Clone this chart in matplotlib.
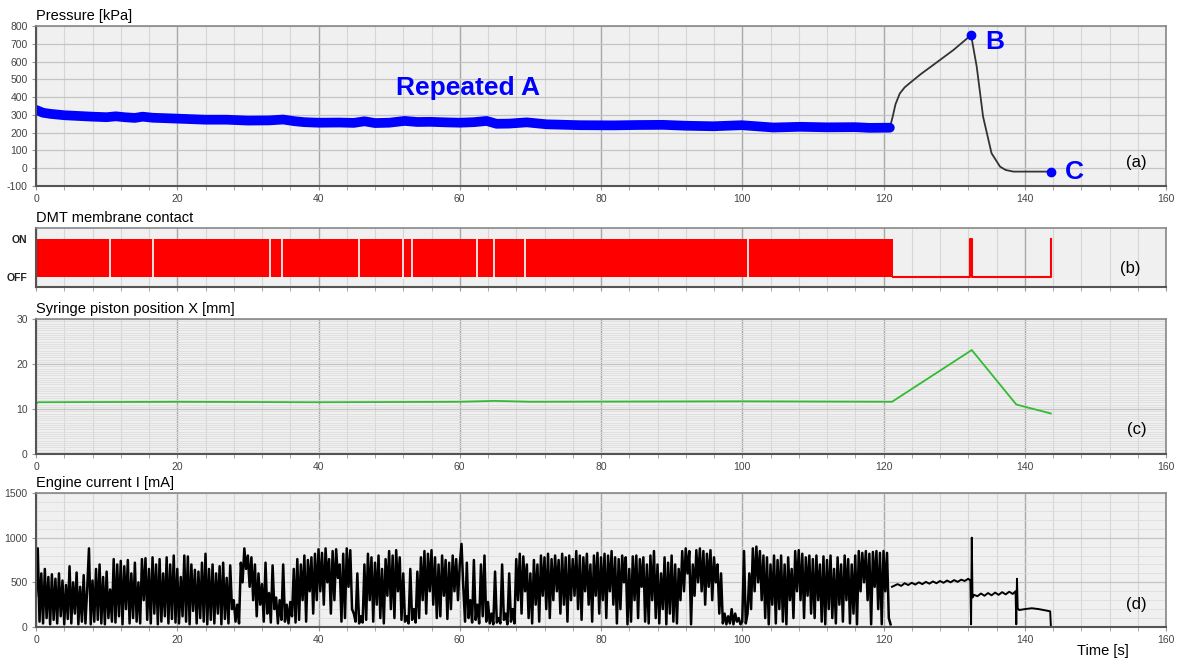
import matplotlib
matplotlib.use('Agg')
import matplotlib.pyplot as plt
import numpy as np
from matplotlib.ticker import MultipleLocator

plt.rcParams['font.family'] = ['Liberation Sans', 'DejaVu Sans']
plt.rcParams['axes.unicode_minus'] = False

# --- (a) pressure ---
press_t = [0, 0.5, 1, 2, 4, 6, 8, 10, 11.3, 12.5, 14, 15.1, 16.5, 20, 24, 27, 30, 33, 35, 36.5,
           38, 40, 43, 45, 46.5, 48, 50, 52.2, 54, 55.8, 58, 60, 62, 63.8, 65.2, 67, 69.5, 72.3,
           77, 81.8, 85, 88.8, 92, 95.9, 99.9, 102, 104.4, 108.2, 112, 116, 118, 120.9]
press_kpa = [328, 320, 312, 306, 298, 294, 290, 287, 292, 287, 283, 290, 284, 279, 273, 273, 268,
             269, 274, 265, 259, 256, 257, 255, 264, 254, 256, 266, 260, 261, 258, 256, 259, 266,
             250, 251, 258, 247, 242, 241, 243, 244, 239, 236, 242, 236, 229, 233, 230, 231, 227, 228]
curve_t = [120.9, 121.3, 121.7, 122.3, 123.0, 123.75, 125.3, 127.05, 129.9, 132.4, 133.2, 134.1,
           135.3, 136.5, 137.3, 138.4, 143.7]
curve_kpa = [228, 290, 360, 420, 455, 480, 530, 581, 665, 749, 571, 290, 84, 9, -10, -19, -19]
point_b = (132.4, 749)
point_c = (143.7, -19)

# --- (b) membrane contact ---
contact_dense_end = 121.3
contact_gaps = [10.5, 16.6, 33.1, 34.8, 45.8, 52.0, 53.2, 62.5, 64.9, 69.3, 100.8]
contact_t = [121.3, 132.3, 132.6, 143.7]
contact_state = [0, 1, 0, 1]

# --- (c) piston position ---
piston_t = [0, 0.3, 20, 40, 60, 65, 70, 100, 121.2, 132.5, 138.8, 143.7]
piston_mm = [11.2, 11.5, 11.6, 11.5, 11.6, 11.8, 11.6, 11.7, 11.6, 23.1, 11.0, 9.0]

# --- (d) engine current, sampled every 0.25 s up to 121 s ---
current_ma = [
    350, 880, 60, 600, 40, 650, 100, 560, 30, 590, 80, 540, 40, 600, 120, 520, 30, 470, 90, 680,
    40, 500, 150, 610, 30, 450, 60, 580, 40, 430, 880, 30, 520, 60, 650, 80, 700, 40, 560, 30,
    620, 100, 420, 60, 760, 50, 700, 120, 740, 30, 680, 200, 750, 40, 600, 100, 720, 60, 500, 40,
    760, 300, 770, 80, 650, 40, 780, 150, 700, 30, 760, 60, 600, 120, 780, 40, 700, 90, 800, 50,
    650, 40, 560, 120, 800, 60, 790, 30, 700, 180, 640, 40, 620, 100, 720, 60, 820, 30, 650, 80,
    700, 40, 600, 150, 680, 30, 720, 90, 550, 40, 690, 200, 300, 60, 250, 40, 720, 500, 880, 650,
    800, 450, 780, 300, 700, 120, 600, 250, 480, 60, 720, 150, 380, 50, 690, 200, 330, 40, 300, 80,
    700, 60, 250, 40, 280, 120, 650, 50, 760, 80, 700, 300, 800, 60, 750, 400, 780, 150, 820, 300,
    870, 400, 830, 250, 880, 500, 760, 150, 850, 300, 870, 550, 700, 60, 820, 100, 880, 450, 860, 200,
    150, 60, 600, 40, 120, 50, 700, 80, 820, 300, 780, 60, 720, 250, 800, 100, 650, 40, 760, 350,
    850, 200, 800, 100, 860, 400, 780, 80, 600, 60, 120, 40, 650, 80, 200, 50, 620, 100, 780, 300,
    850, 150, 820, 400, 860, 250, 780, 100, 700, 120, 800, 350, 750, 90, 720, 200, 800, 400, 760, 300,
    700, 930, 450, 60, 720, 100, 300, 50, 750, 80, 250, 40, 700, 120, 800, 60, 280, 40, 150, 30,
    620, 50, 100, 40, 700, 80, 150, 30, 600, 60, 200, 40, 760, 300, 820, 150, 790, 400, 700, 100,
    600, 40, 750, 250, 700, 60, 800, 350, 780, 200, 820, 100, 760, 300, 800, 400, 750, 150, 820, 250,
    780, 60, 800, 300, 760, 350, 850, 200, 800, 80, 780, 400, 820, 250, 700, 60, 800, 350, 830, 150,
    780, 300, 820, 100, 800, 400, 850, 250, 780, 40, 760, 200, 800, 500, 780, 30, 650, 60, 790, 300,
    800, 100, 760, 450, 780, 60, 700, 40, 800, 300, 850, 100, 700, 40, 600, 200, 780, 30, 720, 150,
    800, 60, 700, 40, 650, 300, 850, 400, 880, 600, 850, 30, 700, 350, 860, 500, 880, 400, 850, 250,
    820, 450, 860, 300, 780, 500, 700, 150, 600, 40, 150, 30, 120, 40, 200, 30, 150, 60, 100, 30,
    60, 850, 40, 150, 600, 200, 880, 400, 900, 500, 850, 300, 800, 100, 780, 30, 700, 250, 800, 40,
    750, 200, 800, 60, 700, 30, 780, 300, 650, 100, 850, 400, 860, 300, 820, 100, 780, 350, 800, 150,
    760, 100, 800, 300, 700, 60, 790, 30, 750, 200, 800, 100, 650, 40, 780, 250, 700, 60, 800, 300,
    760, 40, 700, 150, 800, 30, 850, 400, 830, 500, 850, 300, 820, 30, 840, 450, 850, 200, 830, 30,
    850, 400, 830, 100, 30,
]
current_tail_t = [121.2, 122.0, 122.5, 123.0, 123.5, 124.0, 124.5, 125.0, 125.5, 126.0,
                  126.5, 127.0, 127.5, 128.0, 128.5, 129.0, 129.5, 130.0, 130.5, 131.0,
                  131.5, 132.0, 132.3, 132.4, 132.5, 132.6, 132.8, 133.3, 133.8, 134.3,
                  134.8, 135.3, 135.8, 136.3, 136.8, 137.3, 137.8, 138.3, 138.7, 138.8,
                  138.9, 139.0, 139.2, 140.0, 141.0, 142.0, 143.0, 143.6, 143.7]
current_tail_ma = [450, 480, 460, 490, 470, 495, 475, 500, 480, 505,
                   485, 510, 490, 515, 495, 520, 500, 525, 505, 530,
                   515, 540, 520, 30, 1000, 330, 360, 345, 375, 350,
                   380, 355, 385, 360, 390, 365, 395, 370, 400, 30,
                   540, 210, 190, 200, 210, 200, 185, 175, 10]


def style(ax, ymaj=None, ymin=None, xlabels=True):
    ax.set_facecolor('#f0f0f0')
    ax.set_xlim(0, 160)
    ax.xaxis.set_major_locator(MultipleLocator(20))
    ax.xaxis.set_minor_locator(MultipleLocator(4))
    ax.grid(which='major', axis='x', color='#a8a8a8', lw=1.0)
    ax.grid(which='minor', axis='x', color='#d6d6d6', lw=0.8)
    if ymaj is not None:
        ax.yaxis.set_major_locator(MultipleLocator(ymaj))
        ax.grid(which='major', axis='y', color='#c4c4c4', lw=0.9)
    if ymin is not None:
        ax.yaxis.set_minor_locator(MultipleLocator(ymin))
        ax.grid(which='minor', axis='y', color='#dedede', lw=0.6)
    ax.set_axisbelow(True)
    ax.tick_params(which='both', direction='out', length=3, color='#999999',
                   labelsize=7.5, labelcolor='#444444', pad=3)
    ax.tick_params(axis='y', which='minor', length=0)
    if not xlabels:
        ax.tick_params(axis='x', labelbottom=False)
    for s in ['left', 'bottom']:
        ax.spines[s].set_color('#555555')
        ax.spines[s].set_linewidth(1.5)
    for s in ['top', 'right']:
        ax.spines[s].set_color('#888888')
        ax.spines[s].set_linewidth(1.2)


def title(ax, txt):
    ax.annotate(txt, xy=(0, 1), xycoords='axes fraction', xytext=(0, 2.5),
                textcoords='offset points', ha='left', va='bottom', fontsize=10.5)


W, H = 1183, 659
fig = plt.figure(figsize=(W / 100, H / 100), dpi=100)

def box(top, bottom):
    return [36 / W, 1 - bottom / H, 1130 / W, (bottom - top) / H]

ax1 = fig.add_axes(box(26, 186))
ax2 = fig.add_axes(box(228, 287))
ax3 = fig.add_axes(box(319, 454))
ax4 = fig.add_axes(box(493, 627))

# (a)
style(ax1, ymaj=100)
ax1.set_ylim(-100, 800)
ax1.plot(curve_t, curve_kpa, color='#333333', lw=1.3)
ax1.plot(press_t, press_kpa, color='#0000ff', lw=7, solid_capstyle='round',
         solid_joinstyle='round')
ax1.plot(*point_b, 'o', color='#0000ff', ms=6)
ax1.plot(*point_c, 'o', color='#0000ff', ms=6)
ax1.text(61.2, 451, 'Repeated A', color='#0000ff', fontsize=19, fontweight='bold',
         ha='center', va='center')
ax1.text(point_b[0] + 3.3, point_b[1] - 40, 'B', color='#0000ff', fontsize=19,
         fontweight='bold', ha='center', va='center')
ax1.text(point_c[0] + 3.3, point_c[1] - 2, 'C', color='#0000ff', fontsize=19,
         fontweight='bold', ha='center', va='center')
ax1.text(0.974, 0.15, '(a)', transform=ax1.transAxes, fontsize=12, ha='center', va='center')
title(ax1, 'Pressure [kPa]')

# (b)
style(ax2, xlabels=False)
ax2.set_ylim(-0.26, 1.29)
ax2.set_yticks([0, 1])
ax2.set_yticklabels(['OFF', 'ON'])
ax2.tick_params(axis='y', length=0, labelsize=7.5, labelcolor='#222222', pad=6)
for lab in ax2.get_yticklabels():
    lab.set_fontweight('bold')
ax2.fill_between([0, contact_dense_end], 0, 1, color='#ff0000', lw=0)
for g in contact_gaps:
    ax2.axvline(g, ymin=0.16, ymax=0.82, color='#f6f0f0', lw=1.3)
ax2.plot(contact_t, contact_state, color='#ff0000', lw=1.5, drawstyle='steps-post')
ax2.text(0.968, 0.32, '(b)', transform=ax2.transAxes, fontsize=12, ha='center', va='center')
title(ax2, 'DMT membrane contact')

# (c)
style(ax3, ymaj=10, ymin=0.5)
ax3.set_ylim(0, 30)
ax3.plot(piston_t, piston_mm, color='#33bb33', lw=1.3)
ax3.text(0.974, 0.178, '(c)', transform=ax3.transAxes, fontsize=12, ha='center', va='center')
title(ax3, 'Syringe piston position X [mm]')

# (d)
style(ax4, ymaj=500, ymin=100)
ax4.set_ylim(0, 1500)
current_t = np.arange(len(current_ma)) * 0.25
ax4.plot(current_t, current_ma, color='#000000', lw=1.8)
ax4.plot(current_tail_t, current_tail_ma, color='#000000', lw=1.4)
ax4.text(0.974, 0.17, '(d)', transform=ax4.transAxes, fontsize=12, ha='center', va='center')
title(ax4, 'Engine current I [mA]')

fig.text(1103 / W, 1 - 651 / H, 'Time [s]', fontsize=10.5, ha='center', va='center')

plt.savefig('out.png', dpi=100)
